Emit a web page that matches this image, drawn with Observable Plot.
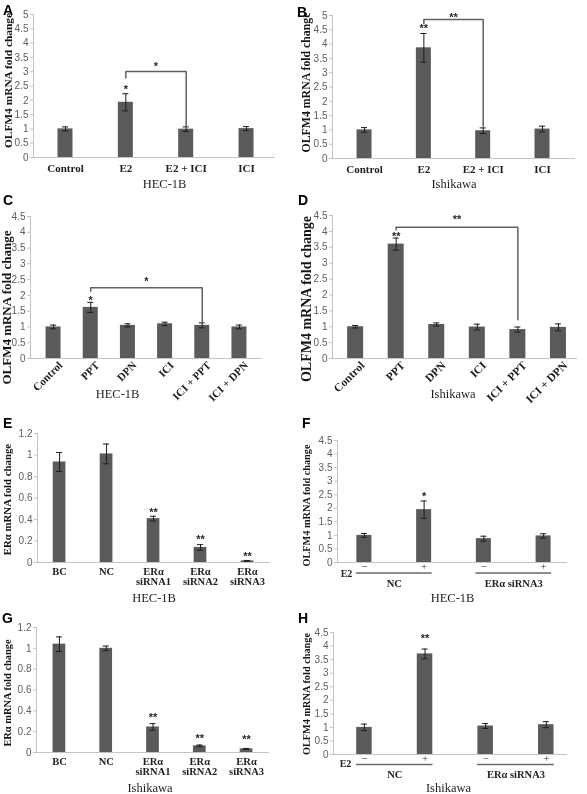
<!DOCTYPE html>
<html><head><meta charset="utf-8">
<script src="https://cdn.jsdelivr.net/npm/d3@7"></script>
<script src="https://cdn.jsdelivr.net/npm/@observablehq/plot@0.6"></script>
<style>
body{margin:0;background:#fff;}
#fig{position:relative;width:587px;height:794px;overflow:hidden;background:#fff;}
.pn{position:absolute;will-change:transform;}
.lt{position:absolute;font:bold 14px "Liberation Sans",Arial,sans-serif;line-height:14px;color:#000;}
</style></head><body><div id="fig"></div>
<script>
// ---- text ----
const yLabelOLFM4 = "OLFM4 mRNA fold change";
const yLabelER = "ERα mRNA fold change";
const cellHEC = "HEC-1B";
const cellISH = "Ishikawa";
const e2Label = "E2";

// ---- tick values ----
const ticks5 = [0, 0.5, 1, 1.5, 2, 2.5, 3, 3.5, 4, 4.5, 5];
const ticks45 = [0, 0.5, 1, 1.5, 2, 2.5, 3, 3.5, 4, 4.5];
const ticks12 = [0, 0.2, 0.4, 0.6, 0.8, 1, 1.2];

// ---- A / B ----
const catsAB = ["Control", "E2", "E2 + ICI", "ICI"];
const valsA = [1.0, 1.93, 0.99, 1.01];
const errA = [0.07, 0.3, 0.08, 0.07];
const starCatA = ["E2"], starValA = [2.48], starTxtA = ["*"];
const brA = ["E2", "E2 + ICI"], brYA = [2.78, 3.01, 1.07], brTxtA = "*", brTxtYA = 3.27;

const valsB = [1.0, 3.87, 0.97, 1.03];
const errB = [0.08, 0.5, 0.1, 0.1];
const starCatB = ["E2"], starValB = [4.62], starTxtB = ["**"];
const brB = ["E2", "E2 + ICI"], brYB = [4.71, 4.86, 1.13], brTxtB = "**", brTxtYB = 5.03;

// ---- C / D ----
const catsCD = ["Control", "PPT", "DPN", "ICI", "ICI + PPT", "ICI + DPN"];
const valsC = [1.0, 1.62, 1.05, 1.1, 1.05, 1.0];
const errC = [0.06, 0.16, 0.05, 0.05, 0.08, 0.06];
const starCatC = ["PPT"], starValC = [1.92], starTxtC = ["*"];
const brC = ["PPT", "ICI + PPT"], brYC = [2.13, 2.24, 1.07], brTxtC = "*", brTxtYC = 2.52;

const valsD = [1.0, 3.6, 1.07, 0.99, 0.91, 0.98];
const errD = [0.04, 0.19, 0.05, 0.09, 0.08, 0.11];
const starCatD = ["PPT"], starValD = [3.92], starTxtD = ["**"];
const brD = ["PPT", "ICI + PPT"], brYD = [4.05, 4.13, 1.22], brTxtD = "**", brTxtYD = 4.45;

// ---- E / G ----
const catsEG = ["BC", "NC", "ERα\nsiRNA1", "ERα\nsiRNA2", "ERα\nsiRNA3"];
const valsE = [0.935, 1.01, 0.408, 0.14, 0.015];
const errE = [0.088, 0.092, 0.022, 0.026, 0.004];
const starCatE = ["ERα\nsiRNA1", "ERα\nsiRNA2", "ERα\nsiRNA3"], starValE = [0.487, 0.239, 0.084], starTxtE = ["**", "**", "**"];

const valsG = [1.04, 1.0, 0.245, 0.064, 0.035];
const errG = [0.07, 0.022, 0.032, 0.008, 0.004];
const starCatG = ["ERα\nsiRNA1", "ERα\nsiRNA2", "ERα\nsiRNA3"], starValG = [0.363, 0.156, 0.15], starTxtG = ["**", "**", "**"];

// ---- F / H ----
const catsFH = ["NC −", "NC +", "siRNA3 −", "siRNA3 +"];
const signsFH = ["−", "+", "−", "+"];
const groupsFH = ["NC", "NC", "ERα siRNA3", "ERα siRNA3"];
const valsF = [1.0, 1.95, 0.88, 0.98];
const errF = [0.07, 0.32, 0.09, 0.08];
const starCatF = ["NC +"], starValF = [2.54], starTxtF = ["*"];

const valsH = [1.0, 3.71, 1.05, 1.1];
const errH = [0.12, 0.18, 0.09, 0.11];
const starCatH = ["NC +"], starValH = [4.38], starTxtH = ["**"];

const serif = "'Liberation Serif','Times New Roman',serif";
const sans = "'Liberation Sans',Arial,sans-serif";

const panels = [
  {id:"A", cats:catsAB, vals:valsA, errs:errA, yticks:ticks5, ylabel:yLabelOLFM4, title:cellHEC,
   stars:[starCatA,starValA,starTxtA], br:[brA,brYA,brTxtA,brTxtYA],
   left:0, top:0, width:290, height:200, mL:33, mR:15, mT:14, mB:43, xdom:[-0.53,3.48], bw:15,
   ylSize:11.4, ylDx:-25.5, ylDy:-5.5, tDx:10, tDy:26, catSize:11, catPad:7, letter:[3,3]},
  {id:"B", cats:catsAB, vals:valsB, errs:errB, yticks:ticks5, ylabel:yLabelOLFM4, title:cellISH,
   stars:[starCatB,starValB,starTxtB], br:[brB,brYB,brTxtB,brTxtYB],
   left:290, top:0, width:297, height:200, mL:42, mR:12, mT:15, mB:42, xdom:[-0.54,3.556], bw:15,
   ylSize:11.8, ylDx:-26, ylDy:-4.5, tDx:0, tDy:25, catSize:11, catPad:7, letter:[297,5]},
  {id:"C", cats:catsCD, vals:valsC, errs:errC, yticks:ticks45, ylabel:yLabelOLFM4, title:cellHEC,
   stars:[starCatC,starValC,starTxtC], br:[brC,brYC,brTxtC,brTxtYC],
   left:0, top:200, width:290, height:200, mL:30, mR:28, mT:16, mB:42, xdom:[-0.62,5.62], bw:15,
   ylSize:13, ylDx:-24, ylDy:20, tDx:-29, tDy:35, catSize:11, catPad:5, rot:-45, letter:[3,193]},
  {id:"D", cats:catsCD, vals:valsD, errs:errD, yticks:ticks45, ylabel:yLabelOLFM4, title:cellISH,
   stars:[starCatD,starValD,starTxtD], br:[brD,brYD,brTxtD,brTxtYD],
   left:290, top:200, width:297, height:200, mL:42, mR:10, mT:15, mB:42, xdom:[-0.57,5.47], bw:16,
   ylSize:14, ylDx:-26, ylDy:12, tDx:-2, tDy:35, catSize:11.5, catPad:5, rot:-45, letter:[298,193]},
  {id:"E", cats:catsEG, vals:valsE, errs:errE, yticks:ticks12, ylabel:yLabelER, title:cellHEC,
   stars:[starCatE,starValE,starTxtE],
   left:0, top:400, width:290, height:200, mL:37, mR:20, mT:33, mB:38, xdom:[-0.47,4.49], bw:12.7,
   ylSize:10.8, ylDx:-29.5, ylDy:1.5, tDx:0, tDy:35, catSize:10.5, catPad:5, letter:[3,416]},
  {id:"F", cats:catsFH, vals:valsF, errs:errF, yticks:ticks45, ylabel:yLabelOLFM4, title:cellHEC,
   stars:[starCatF,starValF,starTxtF], signs:signsFH, groups:groupsFH, e2:[9,11], grpDy:21, lineDy:10.5,
   left:290, top:400, width:297, height:200, mL:47, mR:20, mT:40, mB:38, xdom:[-0.45,3.40], bw:15,
   ylSize:10.3, ylDx:-31, ylDy:4, tDx:0, tDy:35, catSize:11, catPad:0, letter:[302,416]},
  {id:"G", cats:catsEG, vals:valsG, errs:errG, yticks:ticks12, ylabel:yLabelER, title:cellISH,
   stars:[starCatG,starValG,starTxtG],
   left:0, top:600, width:290, height:194, mL:36, mR:21, mT:27, mB:42, xdom:[-0.49,4.49], bw:12.7,
   ylSize:10.4, ylDx:-29, ylDy:3, tDx:-3, tDy:35, catSize:10.5, catPad:5, letter:[2,611]},
  {id:"H", cats:catsFH, vals:valsH, errs:errH, yticks:ticks45, ylabel:yLabelOLFM4, title:cellISH,
   stars:[starCatH,starValH,starTxtH], signs:signsFH, groups:groupsFH, e2:[12,9], grpDy:20, lineDy:10,
   left:290, top:600, width:297, height:194, mL:43, mR:20, mT:32, mB:40, xdom:[-0.51,3.35], bw:15.5,
   ylSize:10.3, ylDx:-27, ylDy:0.5, tDx:-2, tDy:33, catSize:11, catPad:0, letter:[298,611]}
];

const fig = document.getElementById("fig");

function build(p) {
  const n = p.cats.length;
  const idx = d3.range(n);
  const data = idx.map(i => ({i, c: p.cats[i], v: p.vals[i], e: p.errs[i]}));
  const ix = c => p.cats.indexOf(c);
  const ink = "#1c1c1c", axisGray = "#c4c4c4";
  const marks = [
    Plot.rectY(data, {x1: "i", x2: "i", y1: d => 0, y2: "v", insetLeft: -p.bw / 2, insetRight: -p.bw / 2, fill: "#5a5a5a"}),
    Plot.ruleY([0], {stroke: axisGray}),
    Plot.frame({anchor: "left", stroke: axisGray}),
    Plot.ruleX(data, {x: "i", y1: d => d.v - d.e, y2: d => d.v + d.e, stroke: ink}),
    Plot.ruleY(data, {y: d => d.v + d.e, x1: "i", x2: "i", insetLeft: -3, insetRight: -3, stroke: ink}),
    Plot.ruleY(data, {y: d => d.v - d.e, x1: "i", x2: "i", insetLeft: -3, insetRight: -3, stroke: ink}),
    Plot.axisY({ticks: p.yticks, tickFormat: d => String(d), tickSize: 3, tickPadding: 2, stroke: axisGray,
      fill: "#5e5e5e", fontFamily: sans, fontSize: 10, label: null}),
    Plot.text([p.ylabel], {frameAnchor: "left", rotate: -90, dx: p.ylDx, dy: p.ylDy, textAnchor: "middle",
      lineAnchor: "middle", fontFamily: serif, fontWeight: "bold", fontSize: p.ylSize, fill: "#151515"}),
    Plot.text([p.title], {frameAnchor: "bottom", dx: p.tDx, dy: p.tDy, textAnchor: "middle", lineAnchor: "middle",
      fontFamily: serif, fontSize: 12.5, fill: "#1e1e1e"})
  ];
  if (p.signs) {
    marks.push(Plot.axisX({ticks: idx, tickFormat: i => p.signs[i], tickSize: 0, tickPadding: p.catPad,
      fill: "#333", fontFamily: serif, fontSize: p.catSize, label: null}));
    const gnames = Array.from(new Set(p.groups));
    const gdata = gnames.map(g => {
      const m = idx.filter(i => p.groups[i] === g);
      return {g, a: d3.min(m), b: d3.max(m), mid: d3.mean(m)};
    });
    marks.push(Plot.ruleY(gdata, {y: d => 0, x1: "a", x2: "b", dy: p.lineDy, insetLeft: -8, insetRight: -8,
      stroke: "#6a6a6a", strokeWidth: 1.3}));
    marks.push(Plot.text(gdata, {x: "mid", frameAnchor: "bottom", dy: p.grpDy, text: "g", textAnchor: "middle",
      lineAnchor: "middle", fontFamily: serif, fontWeight: "bold", fontSize: 10.5, fill: "#222"}));
    marks.push(Plot.text([e2Label], {frameAnchor: "bottom-left", dx: p.e2[0], dy: p.e2[1], textAnchor: "middle",
      lineAnchor: "middle", fontFamily: serif, fontWeight: "bold", fontSize: 10, fill: "#222"}));
  } else {
    marks.push(Plot.axisX({ticks: idx, tickFormat: i => p.cats[i], tickSize: 0, tickPadding: p.catPad,
      tickRotate: p.rot || 0, dx: p.rot ? 7 : 0, fill: "#1e1e1e", fontFamily: serif, fontWeight: "bold",
      fontSize: p.catSize, lineHeight: 1.0, label: null}));
  }
  const starStyle = {fontFamily: sans, fontWeight: "bold", fontSize: 11, fill: "#262626", stroke: "none", dy: 2.5};
  const [sc, sv, st] = p.stars;
  const sdata = sc.map((c, k) => ({i: ix(c), y: sv[k], t: st[k]}));
  marks.push(Plot.text(sdata, {x: "i", y: "y", text: "t", ...starStyle}));
  if (p.br) {
    const [[a, b], ys, bt, bty] = p.br;
    const ia = ix(a), ib = ix(b);
    const pts = [{x: ia, y: ys[0]}, {x: ia, y: ys[1]}, {x: ib, y: ys[1]}, {x: ib, y: ys[2]}];
    marks.push(Plot.line(pts, {x: "x", y: "y", stroke: "#606060", strokeWidth: 1.5}));
    marks.push(Plot.text([{x: (ia + ib) / 2, y: bty, t: bt}], {x: "x", y: "y", text: "t", ...starStyle}));
  }
  const chart = Plot.plot({
    width: p.width, height: p.height,
    marginLeft: p.mL, marginRight: p.mR, marginTop: p.mT, marginBottom: p.mB,
    x: {type: "linear", domain: p.xdom},
    y: {domain: [0, d3.max(p.yticks)]},
    style: {background: "transparent", overflow: "visible"},
    marks
  });
  const wrap = document.createElement("div");
  wrap.className = "pn";
  wrap.style.left = p.left + "px";
  wrap.style.top = p.top + "px";
  wrap.style.width = p.width + "px";
  wrap.appendChild(chart);
  fig.appendChild(wrap);
  const lt = document.createElement("div");
  lt.className = "lt";
  lt.style.left = p.letter[0] + "px";
  lt.style.top = p.letter[1] + "px";
  lt.textContent = p.id;
  fig.appendChild(lt);
}
panels.forEach(build);
</script></body></html>
